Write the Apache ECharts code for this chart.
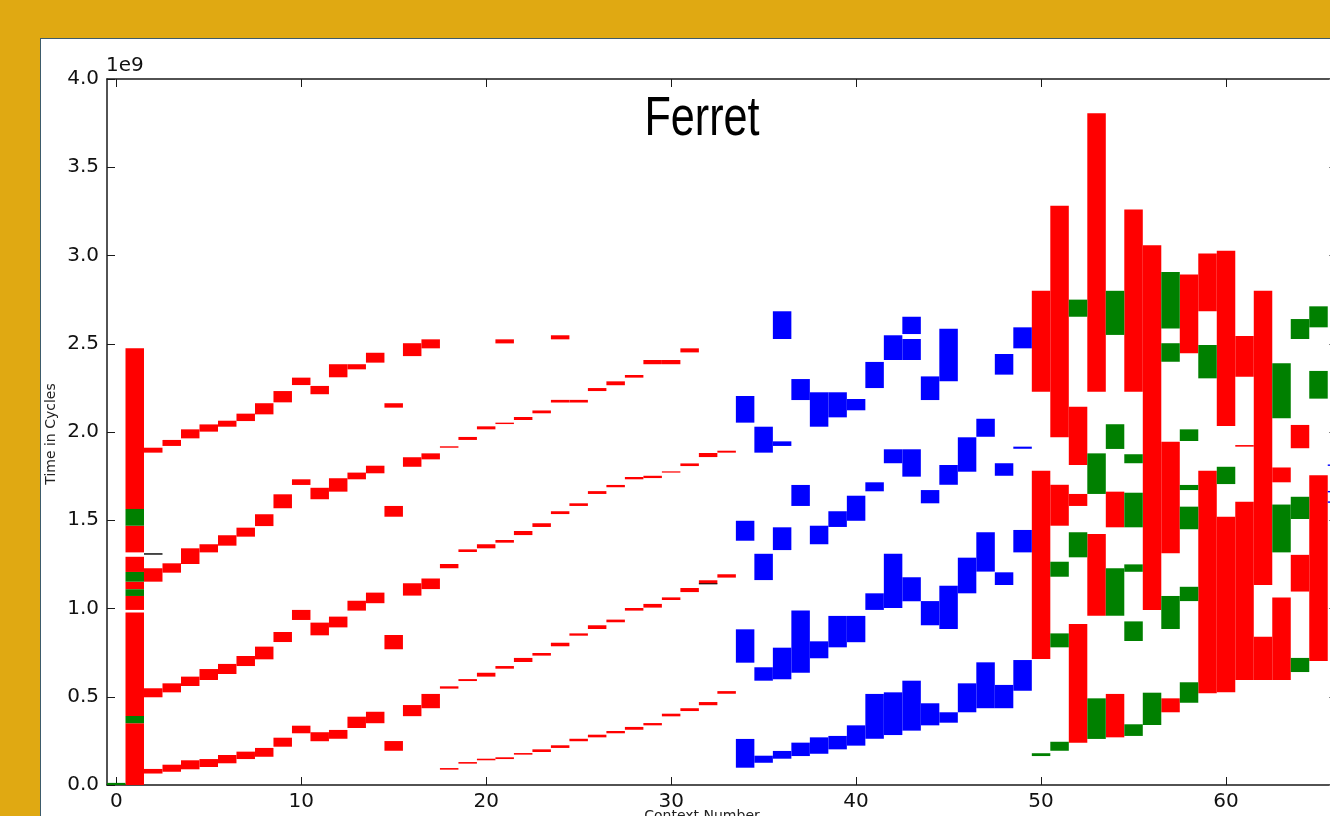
<!DOCTYPE html>
<html>
<head>
<meta charset="utf-8">
<script src="https://cdn.jsdelivr.net/npm/echarts@6/dist/echarts.min.js"></script>
<style>
  html, body { margin: 0; padding: 0; width: 1330px; height: 816px; overflow: hidden; background: #E0A912; }
  #panel { position: absolute; left: 40px; top: 38px; width: 1400px; height: 900px; background: #ffffff;
           border-top: 1.5px solid #3d5b6b; border-left: 1.5px solid #3d5b6b; }
  #chart { position: absolute; left: 0; top: 0; width: 1350px; height: 816px; }
</style>
</head>
<body>
<div id="panel"></div>
<div id="chart"></div>
<script>
// Values are in units of 1e9 cycles: [context number, start, end]
const xTicks = [0, 10, 20, 30, 40, 50, 60];
const yTicks = [0, 0.5, 1.0, 1.5, 2.0, 2.5, 3.0, 3.5, 4.0];

const redBars = [
  // context 1
  [1, 0, 0.35], [1, 0.391, 0.978], [1, 0.992, 1.071], [1, 1.109, 1.152], [1, 1.207, 1.293], [1, 1.318, 1.469], [1, 1.564, 2.474],
  // chain A
  [2, 0.065, 0.091], [3, 0.075, 0.115], [4, 0.089, 0.14], [5, 0.102, 0.147], [6, 0.123, 0.17], [7, 0.147, 0.189],
  [8, 0.16, 0.21], [9, 0.217, 0.268], [10, 0.293, 0.336], [11, 0.248, 0.299], [12, 0.262, 0.312], [13, 0.323, 0.387],
  [14, 0.35, 0.415], [15, 0.194, 0.249], [16, 0.39, 0.453], [17, 0.435, 0.516], [18, 0.087, 0.096], [19, 0.121, 0.13],
  [20, 0.14, 0.149], [21, 0.147, 0.157], [22, 0.172, 0.181], [23, 0.187, 0.202], [24, 0.21, 0.225], [25, 0.248, 0.262],
  [26, 0.27, 0.285], [27, 0.293, 0.306], [28, 0.313, 0.329], [29, 0.338, 0.351], [30, 0.389, 0.404], [31, 0.419, 0.435],
  [32, 0.452, 0.47], [33, 0.517, 0.532],
  // chain B
  [2, 0.497, 0.548], [3, 0.525, 0.576], [4, 0.561, 0.614], [5, 0.595, 0.657], [6, 0.629, 0.686], [7, 0.674, 0.731],
  [8, 0.712, 0.784], [9, 0.81, 0.867], [10, 0.935, 0.992], [11, 0.848, 0.92], [12, 0.893, 0.954], [13, 0.988, 1.044],
  [14, 1.03, 1.09], [15, 0.769, 0.85], [16, 1.073, 1.143], [17, 1.11, 1.17], [18, 0.546, 0.559], [19, 0.589, 0.6],
  [20, 0.614, 0.636], [21, 0.659, 0.674], [22, 0.697, 0.72], [23, 0.733, 0.748], [24, 0.786, 0.806], [25, 0.846, 0.859],
  [26, 0.884, 0.905], [27, 0.922, 0.937], [28, 0.988, 1.003], [29, 1.005, 1.026], [30, 1.048, 1.063], [31, 1.093, 1.116],
  [32, 1.14, 1.16], [33, 1.175, 1.194],
  // chain C
  [2, 1.152, 1.228], [3, 1.203, 1.256], [4, 1.252, 1.341], [5, 1.318, 1.364], [6, 1.356, 1.415], [7, 1.407, 1.458],
  [8, 1.467, 1.534], [9, 1.568, 1.647], [10, 1.7, 1.732], [11, 1.619, 1.684], [12, 1.662, 1.738], [13, 1.732, 1.77],
  [14, 1.766, 1.809], [15, 1.52, 1.581], [16, 1.803, 1.857], [17, 1.845, 1.879], [18, 1.228, 1.252], [19, 1.32, 1.335],
  [20, 1.341, 1.364], [21, 1.373, 1.388], [22, 1.416, 1.439], [23, 1.462, 1.483], [24, 1.535, 1.551], [25, 1.581, 1.596],
  [26, 1.649, 1.665], [27, 1.687, 1.7], [28, 1.732, 1.745], [29, 1.739, 1.752], [30, 1.77, 1.777], [31, 1.807, 1.822],
  [32, 1.858, 1.881], [33, 1.883, 1.894],
  // chain D
  [2, 1.883, 1.911], [3, 1.921, 1.955], [4, 1.964, 2.015], [5, 2.002, 2.043], [6, 2.03, 2.064], [7, 2.062, 2.104],
  [8, 2.1, 2.163], [9, 2.168, 2.232], [10, 2.266, 2.308], [11, 2.214, 2.261], [12, 2.31, 2.384], [13, 2.355, 2.384],
  [14, 2.393, 2.449], [15, 2.138, 2.163], [16, 2.43, 2.503], [17, 2.474, 2.525], [18, 1.911, 1.919], [19, 1.955, 1.972],
  [20, 2.015, 2.032], [21, 2.045, 2.053], [22, 2.068, 2.085], [23, 2.106, 2.122], [24, 2.167, 2.182], [25, 2.167, 2.182],
  [26, 2.232, 2.249], [27, 2.265, 2.287], [28, 2.308, 2.323], [29, 2.384, 2.408], [30, 2.384, 2.408], [31, 2.451, 2.474],
  [21, 2.502, 2.525], [24, 2.525, 2.548],
  // contexts 50-65
  [50, 2.228, 2.8], [50, 0.714, 1.781],
  [51, 1.97, 3.282], [51, 1.469, 1.701],
  [52, 1.813, 2.143], [52, 1.581, 1.649], [52, 0.24, 0.912],
  [53, 2.228, 3.806], [53, 0.959, 1.422],
  [54, 1.46, 1.662], [54, 0.27, 0.516],
  [55, 2.228, 3.26],
  [56, 0.992, 3.058],
  [57, 1.313, 1.945], [57, 0.412, 0.491],
  [58, 2.446, 2.893],
  [59, 2.684, 3.012], [59, 0.52, 1.781],
  [60, 2.034, 3.027], [60, 0.525, 1.52],
  [61, 2.313, 2.544], [61, 1.917, 1.926], [61, 0.595, 1.605],
  [62, 1.133, 2.8], [62, 0.595, 0.84],
  [63, 1.715, 1.799], [63, 0.595, 1.063],
  [64, 1.908, 2.04], [64, 1.096, 1.304],
  [65, 0.703, 1.755]
];

const greenBars = [
  [0, 0, 0.012],
  [1, 0.35, 0.391], [1, 1.071, 1.109], [1, 1.152, 1.207], [1, 1.469, 1.564],
  [50, 0.164, 0.18],
  [51, 1.18, 1.265], [51, 0.78, 0.859], [51, 0.194, 0.245],
  [52, 2.653, 2.75], [52, 1.29, 1.432],
  [53, 1.649, 1.879], [53, 0.261, 0.491],
  [54, 2.55, 2.8], [54, 1.904, 2.044], [54, 0.959, 1.228],
  [55, 1.823, 1.874], [55, 1.46, 1.656], [55, 1.208, 1.25], [55, 0.816, 0.927], [55, 0.278, 0.344],
  [56, 0.34, 0.523],
  [57, 2.587, 2.906], [57, 2.398, 2.503], [57, 0.884, 1.071],
  [58, 1.949, 2.015], [58, 1.671, 1.7], [58, 1.449, 1.577], [58, 1.042, 1.123], [58, 0.466, 0.582],
  [59, 2.304, 2.493],
  [60, 1.705, 1.803],
  [63, 2.078, 2.389], [63, 1.318, 1.589],
  [64, 2.527, 2.64], [64, 1.507, 1.633], [64, 0.64, 0.72],
  [65, 2.593, 2.712], [65, 2.189, 2.346]
];

const blueBars = [
  [34, 0.098, 0.261], [34, 0.693, 0.882], [34, 1.384, 1.497], [34, 2.053, 2.204],
  [35, 0.126, 0.166], [35, 0.591, 0.667], [35, 1.161, 1.31], [35, 1.883, 2.03],
  [36, 0.149, 0.193], [36, 0.599, 0.778], [36, 1.331, 1.46], [36, 1.921, 1.947], [36, 2.527, 2.684],
  [37, 0.164, 0.24], [37, 0.636, 0.988], [37, 1.581, 1.7], [37, 2.181, 2.3],
  [38, 0.177, 0.27], [38, 0.718, 0.814], [38, 1.364, 1.469], [38, 2.03, 2.225],
  [39, 0.202, 0.278], [39, 0.78, 0.958], [39, 1.462, 1.551], [39, 2.083, 2.225],
  [40, 0.223, 0.338], [40, 0.809, 0.958], [40, 1.497, 1.639], [40, 2.123, 2.187],
  [41, 0.262, 0.516], [41, 0.992, 1.086], [41, 1.664, 1.715], [41, 2.249, 2.397],
  [42, 0.283, 0.525], [42, 1.003, 1.31], [42, 1.823, 1.902], [42, 2.408, 2.548],
  [43, 0.308, 0.591], [43, 1.041, 1.177], [43, 1.747, 1.902], [43, 2.408, 2.527], [43, 2.555, 2.653],
  [44, 0.338, 0.463], [44, 0.905, 1.042], [44, 1.596, 1.671], [44, 2.181, 2.315],
  [45, 0.353, 0.412], [45, 0.884, 1.129], [45, 1.701, 1.813], [45, 2.287, 2.585],
  [46, 0.412, 0.576], [46, 1.086, 1.288], [46, 1.775, 1.97],
  [47, 0.435, 0.695], [47, 1.209, 1.432], [47, 1.973, 2.075],
  [48, 0.435, 0.567], [48, 1.133, 1.205], [48, 1.752, 1.823], [48, 2.325, 2.442],
  [49, 0.534, 0.708], [49, 1.318, 1.445], [49, 1.905, 1.917], [49, 2.474, 2.593],
  [66, 1.808, 1.816], [66, 1.658, 1.666], [66, 1.599, 1.607]
];

const blackBars = [
  [2, 1.305, 1.313], [32, 1.137, 1.143]
];

const chart = echarts.init(document.getElementById('chart'), null, { renderer: 'canvas' });

function barSeries(name, data, color) {
  return {
    name: name,
    type: 'custom',
    xAxisIndex: 0,
    yAxisIndex: 0,
    clip: true,
    encode: { x: 0, y: [1, 2] },
    data: data,
    renderItem: function (params, api) {
      const x = api.value(0), lo = api.value(1), hi = api.value(2);
      const p1 = api.coord([x - 0.5, hi]);
      const p2 = api.coord([x + 0.5, lo]);
      return {
        type: 'rect',
        shape: { x: p1[0], y: p1[1], width: p2[0] - p1[0], height: Math.max(p2[1] - p1[1], 1) },
        style: { fill: color }
      };
    }
  };
}

const tickColor = '#1a1a1a';
const labelFont = { color: '#111', fontSize: 20, fontFamily: 'DejaVu Sans' };

const option = {
  backgroundColor: 'transparent',
  animation: false,
  grid: { left: 107, top: 79, right: 13, bottom: 31, show: false },
  xAxis: [
    {
      type: 'value', position: 'bottom', min: -0.5, max: 66,
      axisLine: { show: true, onZero: false, lineStyle: { color: tickColor, width: 1.5 } },
      axisTick: { show: true, inside: true, length: 8, customValues: xTicks, lineStyle: { color: tickColor, width: 1 } },
      axisLabel: Object.assign({ show: true, margin: 7, customValues: xTicks, formatter: v => String(v) }, labelFont),
      splitLine: { show: false }
    },
    {
      type: 'value', position: 'top', min: -0.5, max: 66,
      axisLine: { show: true, onZero: false, lineStyle: { color: tickColor, width: 1.5 } },
      axisTick: { show: true, inside: true, length: 8, customValues: xTicks, lineStyle: { color: tickColor, width: 1 } },
      axisLabel: { show: false },
      splitLine: { show: false }
    }
  ],
  yAxis: [
    {
      type: 'value', position: 'left', min: 0, max: 4, interval: 0.5,
      axisLine: { show: true, onZero: false, lineStyle: { color: tickColor, width: 1.5 } },
      axisTick: { show: true, inside: true, length: 8, lineStyle: { color: tickColor, width: 1 } },
      axisLabel: Object.assign({ show: true, margin: 8, formatter: v => v.toFixed(1) }, labelFont),
      splitLine: { show: false }
    },
    {
      type: 'value', position: 'right', min: 0, max: 4, interval: 0.5,
      axisLine: { show: true, onZero: false, lineStyle: { color: tickColor, width: 1.5 } },
      axisTick: { show: true, inside: true, length: 8, lineStyle: { color: '#888', width: 1 } },
      axisLabel: { show: false },
      splitLine: { show: false }
    }
  ],
  graphic: [
    {
      type: 'text', x: 702, y: 120, scaleX: 0.785, scaleY: 1,
      style: { text: 'Ferret', x: 0, y: 0, align: 'center', verticalAlign: 'middle',
               fill: '#000', font: '55px "Liberation Sans", Arial, sans-serif' }
    },
    {
      type: 'text', x: 106, y: 66,
      style: { text: '1e9', align: 'left', verticalAlign: 'middle', fill: '#111',
               font: '20px "DejaVu Sans", sans-serif' }
    },
    {
      type: 'text', x: 51, y: 434, rotation: Math.PI / 2,
      style: { text: 'Time in Cycles', align: 'center', verticalAlign: 'middle', fill: '#222',
               font: '14px "DejaVu Sans", sans-serif' }
    },
    {
      type: 'text', x: 702, y: 809,
      style: { text: 'Context Number', align: 'center', verticalAlign: 'top', fill: '#222',
               font: '14px "DejaVu Sans", sans-serif' }
    }
  ],
  series: [
    barSeries('red', redBars, '#ff0000'),
    barSeries('green', greenBars, '#008000'),
    barSeries('blue', blueBars, '#0000ff'),
    barSeries('black', blackBars, '#000000')
  ]
};

chart.setOption(option);
</script>
</body>
</html>
